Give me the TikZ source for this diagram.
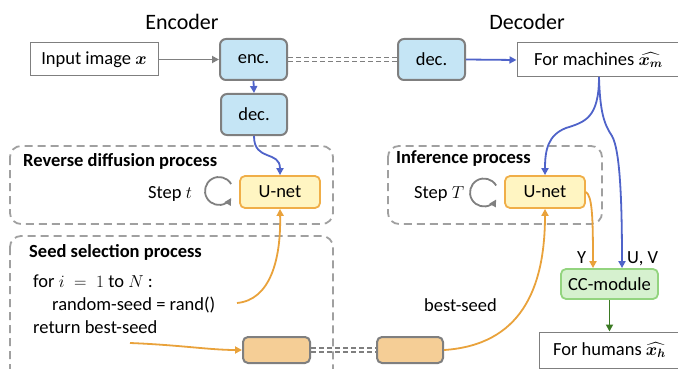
\documentclass[tikz,border=0pt]{standalone}
\usepackage{amsmath,bm}
\usepackage{fontspec}
\setmainfont{Carlito}
\usetikzlibrary{arrows.meta}
\definecolor{bluefill}{HTML}{C5E5F5}
\definecolor{boxgray}{HTML}{7F7F7F}
\definecolor{bluearrow}{HTML}{4F63C9}
\definecolor{orangearrow}{HTML}{E9A23B}
\definecolor{unetfill}{HTML}{FFF5C2}
\definecolor{unetborder}{HTML}{F0AE48}
\definecolor{tanfill}{HTML}{F5CE96}
\definecolor{ccfill}{HTML}{D6F1CF}
\definecolor{ccborder}{HTML}{93D47F}
\definecolor{darkgreen}{HTML}{3B7A23}
\definecolor{dashgray}{HTML}{A0A0A0}
\definecolor{loopgray}{HTML}{808080}
\tikzset{
  every node/.style={inner sep=0pt, font=\fontsize{18.5}{22}\selectfont},
  plainbox/.style={draw=boxgray, fill=white, line width=1pt},
  bluebox/.style={draw=boxgray, fill=bluefill, rounded corners=6pt, line width=2pt},
  unetbox/.style={draw=unetborder, fill=unetfill, rounded corners=5pt, line width=1.8pt},
  tanbox/.style={draw=boxgray, fill=tanfill, rounded corners=5pt, line width=2pt},
  ccbox/.style={draw=ccborder, fill=ccfill, rounded corners=5pt, line width=1.8pt},
  procbox/.style={draw=dashgray, dash pattern=on 8pt off 5pt, rounded corners=11pt, line width=1.8pt},
  headtext/.style={font=\fontsize{22}{26}\selectfont, anchor=base},
  labeltext/.style={anchor=base west},
  boldlabel/.style={anchor=base west, font=\fontsize{18.5}{22}\selectfont\bfseries},
  tip/.style={-{Triangle[length=7pt,width=7pt]}},
  grayarrow/.style={tip, draw=loopgray, fill=loopgray, line width=1.8pt},
  bluearr/.style={tip, draw=bluearrow, line width=1.8pt},
  orangearr/.style={tip, draw=orangearrow, line width=1.8pt},
  greenarr/.style={tip, draw=darkgreen, line width=1.8pt},
  dbl/.style={draw=boxgray, dash pattern=on 5pt off 3pt, line width=1.6pt},
  loop/.style={draw=loopgray, line width=1.8pt, -{Triangle[length=7pt,width=7pt]}},
}
\begin{document}
\begin{tikzpicture}[x=1pt,y=-1pt]
\useasboundingbox (0,0) rectangle (678,369);
% process boxes
\draw[procbox] (10,146) rectangle (333,224);
\draw[procbox] (388,146) rectangle (602,224);
\draw[procbox] (10,236) rectangle (333,400);
% headers
\node[headtext] (enchead) at (182,30) {Encoder};
\node[headtext] (dechead) at (527,30) {Decoder};
% boxes
\node[plainbox, minimum width=128pt, minimum height=33pt] (inp) at (94,59.5) {Input image $\bm{x}$};
\node[bluebox, minimum width=67pt, minimum height=41pt] (enc) at (253.5,59.5) {enc.};
\node[bluebox, minimum width=66pt, minimum height=41pt] (decL) at (254,114.5) {dec.};
\node[bluebox, minimum width=67pt, minimum height=41pt] (decR) at (431.5,59.5) {dec.};
\node[plainbox, minimum width=163pt, minimum height=34pt] (mach) at (598.5,60) {For machines $\widehat{\bm{x}_{\bm{m}}}$};
\node[unetbox, minimum width=80pt, minimum height=32pt] (unetL) at (280,192) {U-net};
\node[unetbox, minimum width=80pt, minimum height=32pt] (unetR) at (545,192) {U-net};
\node[tanbox, minimum width=67pt, minimum height=26pt] (tanL) at (276.5,350) {};
\node[tanbox, minimum width=66pt, minimum height=26pt] (tanR) at (410,350) {};
\node[ccbox, minimum width=97pt, minimum height=30pt] (cc) at (609.5,284) {CC-module};
\node[plainbox, minimum width=141pt, minimum height=36pt] (hum) at (609.5,350) {For humans $\widehat{\bm{x}_{\bm{h}}}$};
% labels
\node[boldlabel] (revlab) at (23,166) {Reverse diffusion process};
\node[labeltext] (stept) at (148,198) {Step $t$};
\node[boldlabel] (seedlab) at (29,257) {Seed selection process};
\node[labeltext] (forline) at (33,287) {for $i\;=\;1$ to $N$ :};
\node[labeltext] (randline) at (52,310) {random-seed = rand()};
\node[labeltext] (retline) at (33,333) {return best-seed};
\node[boldlabel] (inflab) at (396,163) {Inference process};
\node[labeltext] (stepT) at (414,198) {Step $T$};
\node[labeltext] (bestlab) at (424,311) {best-seed};
\node[labeltext] (ylab) at (577,263) {Y};
\node[labeltext] (uvlab) at (627,263) {U, V};
% coordinates for free ends
\coordinate (randend) at (237,303);
\coordinate (retend) at (130,343);
\coordinate (split) at (599,77);
\coordinate (loopLc) at (219,191);
\coordinate (loopRc) at (484,192.5);
% connectors
\draw[grayarrow] (inp.east) -- (enc.west);
\draw[bluearr] (decR.east) -- (mach.west);
\draw[bluearr] (enc.south) -- (decL.north);
\draw[dbl] ([yshift=2pt]enc.east) -- ([yshift=2pt]decR.west);
\draw[dbl] ([yshift=-2pt]enc.east) -- ([yshift=-2pt]decR.west);
\draw[dbl] ([yshift=2pt]tanL.east) -- ([yshift=2pt]tanR.west);
\draw[dbl] ([yshift=-2pt]tanL.east) -- ([yshift=-2pt]tanR.west);
\draw[bluearr] (decL.south) .. controls (254,162) and (280,150) .. (unetL.north);
\draw[bluearr] (split) .. controls (599,118) and (585,122) .. (566,128) .. controls (548,135) and (545,150) .. (unetR.north);
\draw[bluearr] (split) .. controls (600,112) and (604,124) .. (612,136) .. controls (620,150) and (622,200) .. (cc.north -| 622,0);
\draw[orangearr] (randend) .. controls (270,300) and (281,260) .. (unetL.south);
\draw[orangearr] (retend) .. controls (180,345) and (210,350) .. (tanL.west);
\draw[orangearr] (tanR.east) .. controls (520,345) and (545,290) .. (unetR.south);
\draw[orangearr] (unetR.east) .. controls (592,196) and (593,215) .. (cc.north -| 593,0);
\draw[greenarr] (cc.south) -- (hum.north);
% loops
\draw[loop] ([shift={(30:14pt)}]loopLc) arc[start angle=30, end angle=330, radius=14pt];
\draw[loop] ([shift={(30:14pt)}]loopRc) arc[start angle=30, end angle=330, radius=14pt];
\end{tikzpicture}
\end{document}
